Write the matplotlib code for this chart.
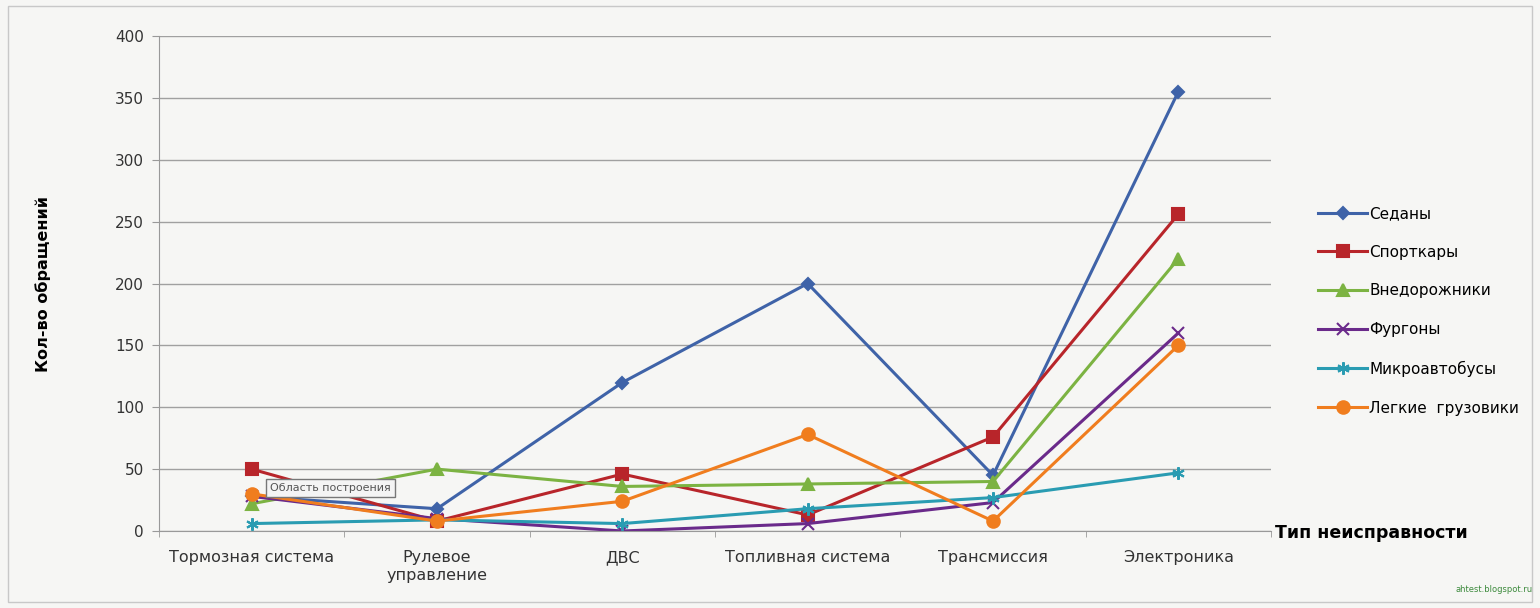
import matplotlib.pyplot as plt
import numpy as np

# Data
categories = ['Тормозная система', 'Рулевое\nуправление', 'ДВС',
              'Топливная система', 'Трансмиссия', 'Электроника']
series_names = ['Седаны', 'Спорткары', 'Внедорожники', 'Фургоны',
                'Микроавтобусы', 'Легкие  грузовики']
sedans = [28, 18, 120, 200, 45, 355]
sportscars = [50, 8, 46, 13, 76, 256]
suvs = [22, 50, 36, 38, 40, 220]
vans = [28, 10, 0, 6, 23, 160]
minibuses = [6, 9, 6, 18, 27, 47]
light_trucks = [30, 8, 24, 78, 8, 150]
y_ticks = [0, 50, 100, 150, 200, 250, 300, 350, 400]

values = [sedans, sportscars, suvs, vans, minibuses, light_trucks]
colors = ['#3f63a8', '#b8252a', '#7cb342', '#6a2a8a', '#2a9cb2', '#f07d1e']
markers = ['D', 's', '^', 'x', (6, 2, 0), 'o']
msizes = [6, 9, 8, 9, 9, 9]

bg = '#f6f6f4'
fig = plt.figure(figsize=[15.4, 6.08], dpi=100, facecolor=bg)
ax = fig.add_axes([159 / 1540, 1 - 531 / 608, (1271 - 159) / 1540, (531 - 36) / 608])
ax.set_facecolor(bg)

x = np.arange(len(categories))
for name, vals, c, m, ms in zip(series_names, values, colors, markers, msizes):
    ax.plot(x, vals, color=c, marker=m, markersize=ms, linewidth=2.2,
            markeredgewidth=1.5, label=name)

ax.set_xlim(-0.5, len(categories) - 0.5)
ax.set_ylim(0, 400)
ax.set_yticks(y_ticks)
ax.set_yticklabels([str(t) for t in y_ticks], fontsize=11, color='#333333')
ax.set_xticks(x)
ax.set_xticklabels(categories, fontsize=11.5, color='#333333')
ax.set_xticks(np.arange(len(categories) + 1) - 0.5, minor=True)
ax.tick_params(axis='x', which='major', length=0, pad=14)
ax.tick_params(axis='x', which='minor', length=4, color='#999999')
ax.tick_params(axis='y', length=5, color='#999999', pad=6)
ax.yaxis.grid(True, color='#a0a0a0', linewidth=1)
ax.set_axisbelow(True)
for s in ['top', 'right']:
    ax.spines[s].set_visible(False)
ax.spines['left'].set_color('#999999')
ax.spines['bottom'].set_color('#999999')

ax.set_ylabel('Кол-во обращений', fontsize=11.5, fontweight='bold')
ax.yaxis.set_label_coords(-0.097, 0.5)
fig.text(1275 / 1540, 1 - 533 / 608, 'Тип неисправности', fontsize=12.5,
         fontweight='bold', va='center', ha='left')

ax.legend(loc='center left', bbox_to_anchor=(1.03, 0.445), frameon=False,
          fontsize=11, labelspacing=1.55, handlelength=3.2, handletextpad=0.15)

# Excel tooltip artifact on the plot
ax.text(0.1, 35, 'Область построения', fontsize=8, color='#555555', va='center',
        bbox=dict(boxstyle='square,pad=0.35', facecolor='#f4f4f4', edgecolor='#777777'))

fig.text(1533 / 1540, 1 - 590 / 608, 'ahtest.blogspot.ru', fontsize=6,
         color='#3c8a3c', ha='right', va='center')

# thin border around the chart area
fig.patches.append(plt.Rectangle((8 / 1540, 6 / 608), 1524 / 1540, 596 / 608,
                                 transform=fig.transFigure, fill=False,
                                 edgecolor='#c8c8c8', linewidth=1))

plt.savefig('out.png', dpi=100, facecolor=bg)
